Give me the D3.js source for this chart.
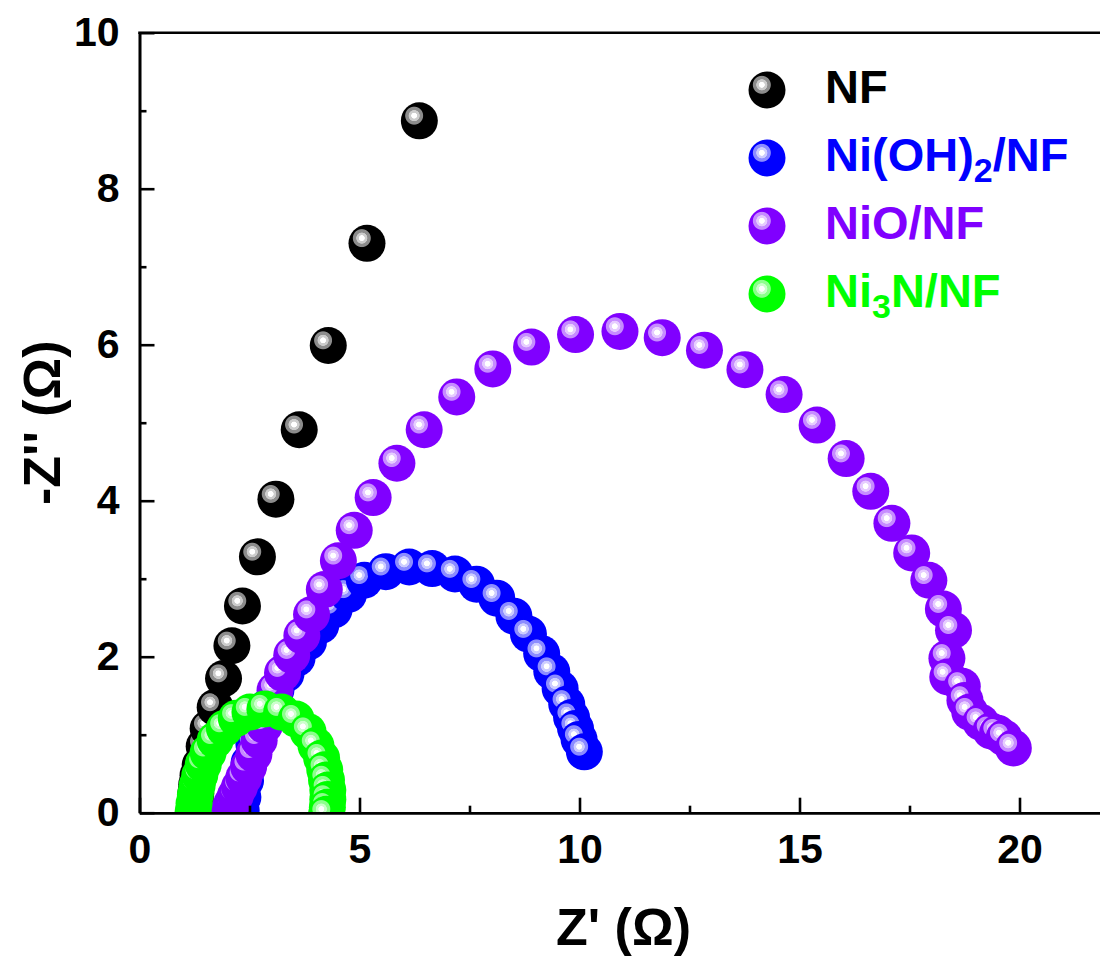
<!DOCTYPE html>
<html><head><meta charset="utf-8">
<script src="https://cdn.jsdelivr.net/npm/d3@7"></script>
<style>
body{margin:0;background:#fff;}
text{font-family:"Liberation Sans",Arial,sans-serif;font-weight:bold;}
</style>
</head><body>
<svg id="chart" width="1100" height="960"></svg>
<script>
// ---- data (Z' and -Z'' in ohm) ----
const nfRe = [1.26,1.27,1.28,1.30,1.33,1.38,1.47,1.56,1.72,1.91,2.10,2.34,2.68,3.10,3.63,4.29,5.17,6.36];
const nfIm = [0.06,0.15,0.25,0.36,0.48,0.61,0.85,1.08,1.35,1.72,2.14,2.65,3.28,4.02,4.91,5.99,7.30,8.87];

const nohRe = [2.31,2.35,2.41,2.49,2.60,2.73,2.90,3.10,3.33,3.58,3.84,4.12,4.42,4.75,5.11,5.60,6.13,6.65,7.17,7.66,8.12,8.51,8.84,9.14,9.37,9.56,9.71,9.82,9.91,9.99,10.11];
const nohIm = [0.03,0.20,0.41,0.64,0.88,1.12,1.35,1.57,1.78,1.98,2.19,2.40,2.60,2.80,2.98,3.09,3.15,3.13,3.06,2.93,2.75,2.52,2.29,2.04,1.81,1.59,1.39,1.22,1.08,0.94,0.78];

const nioRe = [2.03,2.10,2.18,2.27,2.37,2.48,2.60,2.72,2.84,2.96,3.08,3.25,3.46,3.69,3.91,4.20,4.52,4.88,5.31,5.85,6.47,7.21,8.03,8.91,9.91,10.92,11.88,12.84,13.76,14.65,15.40,16.06,16.62,17.10,17.55,17.94,18.27,18.50,18.35,18.37,18.70,18.76,18.87,19.12,19.35,19.50,19.65,19.86];
const nioIm = [0.03,0.12,0.22,0.33,0.45,0.59,0.75,0.93,1.12,1.34,1.57,1.79,2.02,2.27,2.54,2.86,3.23,3.62,4.04,4.48,4.91,5.33,5.69,5.97,6.13,6.17,6.09,5.93,5.68,5.36,4.97,4.54,4.12,3.71,3.33,2.98,2.61,2.34,1.98,1.74,1.62,1.44,1.29,1.16,1.05,1.02,0.96,0.83];

const ni3nRe = [1.22,1.24,1.27,1.31,1.37,1.45,1.56,1.72,1.93,2.20,2.51,2.85,3.23,3.56,3.83,4.01,4.14,4.21,4.25,4.28,4.28,4.27,4.25];
const ni3nIm = [0.02,0.12,0.23,0.35,0.48,0.62,0.77,0.93,1.08,1.21,1.29,1.33,1.29,1.20,1.04,0.86,0.70,0.55,0.42,0.29,0.17,0.07,-0.02];

const seriesNames = ["NF","Ni(OH)2/NF","NiO/NF","Ni3N/NF"];
const seriesColors = ["#000000","#0000ff","#8000ff","#00ff00"];
const xMajorTicks = [0,5,10,15,20];
const xMinorTicks = [2.5,7.5,12.5,17.5];
const yMajorTicks = [0,2,4,6,8,10];
const yMinorTicks = [1,3,5,7,9];
const xTitle = "Z' (Ω)";
const yTitle = "-Z'' (Ω)";

// ---- chart ----
const svg = d3.select("#chart");
const x = d3.scaleLinear().domain([0,22]).range([139.5,1107.5]);
const y = d3.scaleLinear().domain([0,10]).range([812.7,32.7]);

const series = [
  {re:nfRe, im:nfIm},
  {re:nohRe, im:nohIm},
  {re:nioRe, im:nioIm},
  {re:ni3nRe, im:ni3nIm}
];

const defs = svg.append("defs");
seriesColors.forEach((c,i)=>{
  const light = d3.interpolateRgb(c,"#ffffff")(0.8);
  const mid = d3.interpolateRgb(c,"#ffffff")(0.55);
  const g = defs.append("radialGradient").attr("id","ball"+i)
    .attr("cx",0.36).attr("cy",0.36).attr("r",0.255);
  [[0,"#ffffff"],[0.28,"#ffffff"],[0.34,light],[0.56,light],[0.62,mid],[0.9,mid],[1,c]]
    .forEach(s=>g.append("stop").attr("offset",s[0]).attr("stop-color",s[1]));
});
defs.append("clipPath").attr("id","plotclip").append("rect")
  .attr("x",x(0)).attr("y",y(10)).attr("width",x(22)-x(0)).attr("height",y(0)-y(10));

// markers
const R = 18.5;
const gMarks = svg.append("g").attr("clip-path","url(#plotclip)");
series.forEach((s,i)=>{
  gMarks.append("g").selectAll("circle").data(d3.range(s.re.length)).enter().append("circle")
    .attr("cx",k=>x(s.re[k])).attr("cy",k=>y(s.im[k])).attr("r",R)
    .attr("fill",`url(#ball${i})`);
});

// axes
const sw = 2.6;
function styleAxis(g){
  g.select(".domain").attr("stroke","#000").attr("stroke-width",sw);
  g.selectAll(".tick line").attr("stroke","#000").attr("stroke-width",sw);
  g.selectAll(".tick text").attr("fill","#000").style("font-size","41px");
}
svg.append("g").attr("transform",`translate(0,${y(0)})`)
  .call(d3.axisBottom(x).tickValues(xMinorTicks).tickSizeInner(-7).tickSizeOuter(0).tickFormat(""))
  .call(styleAxis);
svg.append("g").attr("transform",`translate(0,${y(0)})`)
  .call(d3.axisBottom(x).tickValues(xMajorTicks).tickSizeInner(-15).tickSizeOuter(0).tickPadding(21).tickFormat(d3.format("d")))
  .call(styleAxis);
svg.append("g").attr("transform",`translate(${x(0)},0)`)
  .call(d3.axisLeft(y).tickValues(yMinorTicks).tickSizeInner(-7).tickSizeOuter(0).tickFormat(""))
  .call(styleAxis);
svg.append("g").attr("transform",`translate(${x(0)},0)`)
  .call(d3.axisLeft(y).tickValues(yMajorTicks).tickSizeInner(-15).tickSizeOuter(0).tickPadding(20).tickFormat(d3.format("d")))
  .call(styleAxis);
// top and right frame
svg.append("line").attr("x1",x(0)-sw/2).attr("x2",x(22)).attr("y1",y(10)).attr("y2",y(10))
  .attr("stroke","#000").attr("stroke-width",sw);
svg.append("line").attr("x1",x(22)).attr("x2",x(22)).attr("y1",y(10)).attr("y2",y(0))
  .attr("stroke","#000").attr("stroke-width",sw);

// axis titles
svg.append("text").attr("x",(x(0)+x(22))/2).attr("y",945).attr("text-anchor","middle")
  .style("font-size","52px").attr("fill","#000").text(xTitle);
svg.append("text").attr("transform",`translate(60,${(y(0)+y(10))/2}) rotate(-90)`).attr("text-anchor","middle")
  .style("font-size","52px").attr("fill","#000").text(yTitle);

// legend
const lg = svg.append("g");
seriesNames.forEach((name,i)=>{
  const cy = 90 + i*68;
  lg.append("circle").attr("cx",767).attr("cy",cy).attr("r",R).attr("fill",`url(#ball${i})`);
  const t = lg.append("text").attr("x",825).attr("y",cy+13).style("font-size","47px").attr("fill",seriesColors[i]);
  const m = name.match(/^(.*?[A-Za-z)])(\d)(.*)$/);
  if (m) {
    t.append("tspan").text(m[1]);
    t.append("tspan").attr("dy",11).style("font-size","34px").text(m[2]);
    t.append("tspan").attr("dy",-11).text(m[3]);
  } else {
    t.text(name);
  }
});
</script>
</body></html>
